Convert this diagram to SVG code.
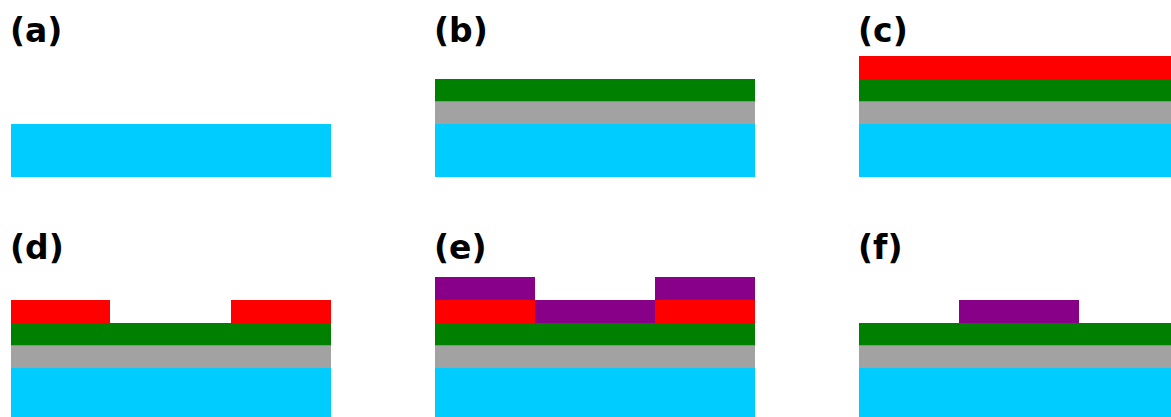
<svg xmlns="http://www.w3.org/2000/svg" width="1171" height="417" viewBox="0 0 1171 417">
  <style>
    .label { font-family: "DejaVu Sans", "Liberation Sans", sans-serif; font-weight: bold; font-size: 33px; fill: #000; }
    .substrate { fill: #00ccff; }
    .oxide { fill: #a2a2a2; }
    .film { fill: #008000; }
    .resist { fill: #ff0000; }
    .metal { fill: #880088; }
  </style>
  <rect width="1171" height="417" fill="#fff"/>

  <!-- (a) bare substrate -->
  <g id="panel-a">
    <text class="label" x="10" y="42">(a)</text>
    <rect class="substrate" x="11" y="124" width="320" height="53"/>
  </g>

  <!-- (b) oxide and film deposited -->
  <g id="panel-b">
    <text class="label" x="434" y="42">(b)</text>
    <rect class="substrate" x="435" y="124" width="320" height="53"/>
    <rect class="oxide" x="435" y="101.5" width="320" height="22.5"/>
    <rect class="film" x="435" y="79" width="320" height="22.5"/>
  </g>

  <!-- (c) resist coated -->
  <g id="panel-c">
    <text class="label" x="858" y="42">(c)</text>
    <rect class="substrate" x="859" y="124" width="320" height="53"/>
    <rect class="oxide" x="859" y="101.5" width="320" height="22.5"/>
    <rect class="film" x="859" y="79" width="320" height="22.5"/>
    <rect class="resist" x="859" y="56" width="320" height="23"/>
  </g>

  <!-- (d) resist patterned -->
  <g id="panel-d">
    <text class="label" x="10" y="259">(d)</text>
    <rect class="substrate" x="11" y="368" width="320" height="53"/>
    <rect class="oxide" x="11" y="345.5" width="320" height="22.5"/>
    <rect class="film" x="11" y="323" width="320" height="22.5"/>
    <rect class="resist" x="11" y="300" width="99" height="23"/>
    <rect class="resist" x="231" y="300" width="100" height="23"/>
  </g>

  <!-- (e) metal deposited over patterned resist -->
  <g id="panel-e">
    <text class="label" x="434" y="259">(e)</text>
    <rect class="substrate" x="435" y="368" width="320" height="53"/>
    <rect class="oxide" x="435" y="345.5" width="320" height="22.5"/>
    <rect class="film" x="435" y="323" width="320" height="22.5"/>
    <rect class="resist" x="435" y="300" width="100" height="23"/>
    <rect class="resist" x="655" y="300" width="100" height="23"/>
    <rect class="metal" x="535" y="300" width="120" height="23"/>
    <rect class="metal" x="435" y="277" width="100" height="23"/>
    <rect class="metal" x="655" y="277" width="100" height="23"/>
  </g>

  <!-- (f) after lift-off -->
  <g id="panel-f">
    <text class="label" x="858" y="259">(f)</text>
    <rect class="substrate" x="859" y="368" width="320" height="53"/>
    <rect class="oxide" x="859" y="345.5" width="320" height="22.5"/>
    <rect class="film" x="859" y="323" width="320" height="22.5"/>
    <rect class="metal" x="959" y="300" width="120" height="23"/>
  </g>

  <g id="connectors"/>
</svg>
